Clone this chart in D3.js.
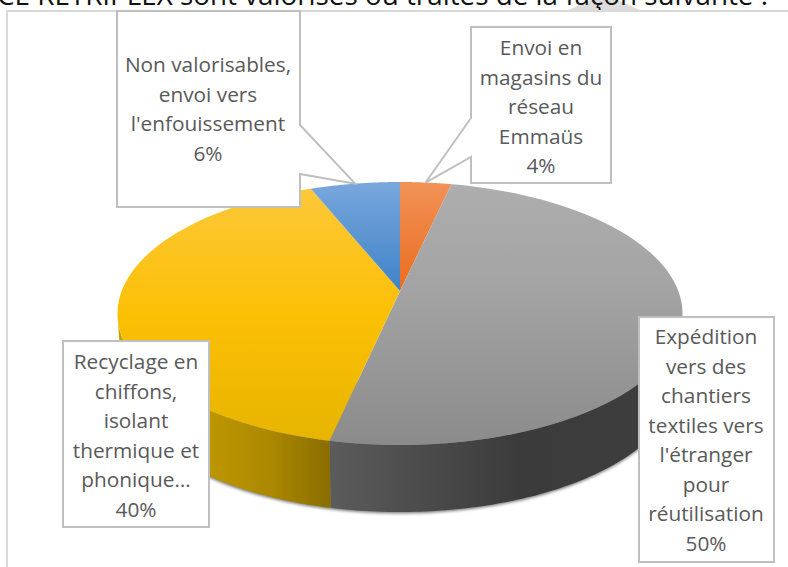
<!DOCTYPE html>
<html lang="fr"><head><meta charset="utf-8">
<style>html,body{margin:0;padding:0;background:#fff;overflow:hidden}svg{display:block}</style>
<script src="https://cdn.jsdelivr.net/npm/d3@7/dist/d3.min.js"></script></head>
<body><script>
const categories = ["Envoi en magasins du réseau Emmaüs","Expédition vers des chantiers textiles vers l'étranger pour réutilisation","Recyclage en chiffons, isolant thermique et phonique…","Non valorisables, envoi vers l'enfouissement"];
const values = [4, 50, 40, 6];
const labelLines = [
  ["Envoi en","magasins du","réseau","Emmaüs"],
  ["Expédition","vers des","chantiers","textiles vers","l'étranger","pour","réutilisation"],
  ["Recyclage en","chiffons,","isolant","thermique et","phonique…"],
  ["Non valorisables,","envoi vers","l'enfouissement"]
];
const headline = "ICE RETRIPLEX sont valorisés ou traités de la façon suivante :";

// layout and styling, separate from the data
const W = 788, H = 567;
const cx = 400, cy = 313.5, rx = 282.5, ry = 131.5, depth = 67;
const apexY = 291, bottomScale = 0.985;
const FONT = "'Open Sans', Lato, sans-serif";
const boxes = [
  {x0:471,x1:611,y0:27,y1:183,tx:541,ty:48,notch:[118,157]},
  {x0:639,x1:774,y0:317,y1:562,tx:706,ty:337},
  {x0:63,x1:209,y0:341,y1:527,tx:136,ty:362},
  {x0:117,x1:300,y0:11,y1:207,tx:208,ty:65,notch:[125,174]}
];
const lineStep = 29.5;
const topStops = [
  [["0","#f19257"],["1","#ea6c1f"]],
  [["0","#aeaeae"],["0.45","#a2a2a2"],["1","#8b8b8b"]],
  [["0","#fdc83c"],["0.5","#fcc005"],["1","#e6b400"]],
  [["0","#79a7dc"],["1","#3f83c8"]]
];
const sideStops = {
  1:[[328,"#5c5c5c"],[430,"#4a4a4a"],[520,"#3b3b3b"],[682,"#3e3e3e"]],
  2:[[117,"#c9a200"],[215,"#bb9500"],[270,"#ac8800"],[328,"#8a6e00"]]
};

const svg = d3.select("body").append("svg").attr("width",W).attr("height",H);
const defs = svg.append("defs");
defs.append("filter").attr("id","soft").attr("x","-10%").attr("y","-10%").attr("width","120%").attr("height","120%")
  .append("feGaussianBlur").attr("stdDeviation",1.6);

// headline clipped by the top of the page, and the faint watermark behind it
svg.append("path").attr("fill","#dcdcdc")
  .attr("d",d3.line()([[566,11],[591,0],[618,0],[642,11]]));
svg.append("text").attr("x",768).attr("y",5).attr("text-anchor","end")
  .attr("font-family","'Open Sans', sans-serif").attr("font-size",27.8).attr("fill","#111").text(headline);

// chart frame
svg.append("path").attr("fill","none").attr("stroke","#d9d9d9").attr("stroke-width",2)
  .attr("d",d3.line()([[7,H],[7,11],[W,11]]));

// pie geometry: d3.pie angles, foreshortened on the far side by the 3D view
const slices = d3.pie().sort(null).value(d=>d)(values);
const warp = a => a - ((a<Math.PI?16:9)*Math.PI/180)*Math.sin(a)*(1+Math.cos(a))/2;
const rim = a => { const w = warp(a); return [cx+rx*Math.sin(w), cy-ry*Math.cos(w)]; };
const lowRim = (a,extra=0) => { const [x,y] = rim(a); return [cx+(x-cx)*bottomScale, y+depth+extra]; };
const samples = (a0,a1,n=90) => d3.range(n+1).map(i=>a0+(a1-a0)*i/n);
const line = d3.line();
// angles where the warped rim reaches its left and right extremes
const sideA0 = d3.range(0,Math.PI,0.002).find(a=>warp(a)>=Math.PI/2);
const sideA1 = d3.range(Math.PI,2*Math.PI,0.002).find(a=>warp(a)>=3*Math.PI/2);

// ground shadow
svg.append("path").attr("fill","#555").attr("opacity",.75).attr("filter","url(#soft)")
  .attr("d",line(samples(sideA0,sideA1,120).map(a=>lowRim(a,1.5))));

// side wall: only the near half of the rim shows
slices.forEach((s,i)=>{
  const a0 = Math.max(s.startAngle,sideA0), a1 = Math.min(s.endAngle,sideA1);
  if(a1<=a0) return;
  const id = "side"+i;
  const g = defs.append("linearGradient").attr("id",id).attr("gradientUnits","userSpaceOnUse")
    .attr("x1",117).attr("x2",682).attr("y1",0).attr("y2",0);
  (sideStops[i]||[]).forEach(([x,c])=>g.append("stop").attr("offset",(x-117)/565).attr("stop-color",c));
  const front = samples(a0,a1);
  const pts = front.map(a=>rim(a)).concat(front.slice().reverse().map(a=>lowRim(a)));
  svg.append("path").attr("fill",`url(#${id})`).attr("d",line(pts)+"Z");
});

// top surface
slices.forEach((s,i)=>{
  const id = "top"+i;
  const g = defs.append("linearGradient").attr("id",id).attr("gradientUnits","userSpaceOnUse")
    .attr("x1",0).attr("x2",0).attr("y1",cy-ry).attr("y2",i===0||i===3?apexY:cy+ry);
  topStops[i].forEach(([o,c])=>g.append("stop").attr("offset",o).attr("stop-color",c));
  const pts = [[cx,apexY]].concat(samples(s.startAngle,s.endAngle).map(a=>rim(a)));
  svg.append("path").attr("fill",`url(#${id})`).attr("d",line(pts)+"Z");
});

// data-label callouts, pointing at each slice's rim midpoint
boxes.forEach((b,i)=>{
  const s = slices[i], tip = rim((s.startAngle+s.endAngle)/2);
  let pts;
  if(i===0) pts=[[b.x0,b.y0],[b.x1,b.y0],[b.x1,b.y1],[b.x0,b.y1],[b.x0,b.notch[1]],tip,[b.x0,b.notch[0]]];
  else if(i===3) pts=[[b.x0,b.y0],[b.x1,b.y0],[b.x1,b.notch[0]],tip,[b.x1,b.notch[1]],[b.x1,b.y1],[b.x0,b.y1]];
  else pts=[[b.x0,b.y0],[b.x1,b.y0],[b.x1,b.y1],[b.x0,b.y1]];
  svg.append("path").attr("fill","#fff").attr("stroke","#bfbfbf").attr("stroke-width",2)
    .attr("d",line(pts)+"Z");
  const t = svg.append("text").attr("text-anchor","middle").attr("font-family",FONT)
    .attr("font-size",20.8).attr("fill","#595959");
  labelLines[i].concat([values[i]+"%"]).forEach((l,k)=>{
    t.append("tspan").attr("x",b.tx).attr("y",b.ty+k*lineStep).attr("dy","0.35em").text(l);
  });
});
</script></body></html>
